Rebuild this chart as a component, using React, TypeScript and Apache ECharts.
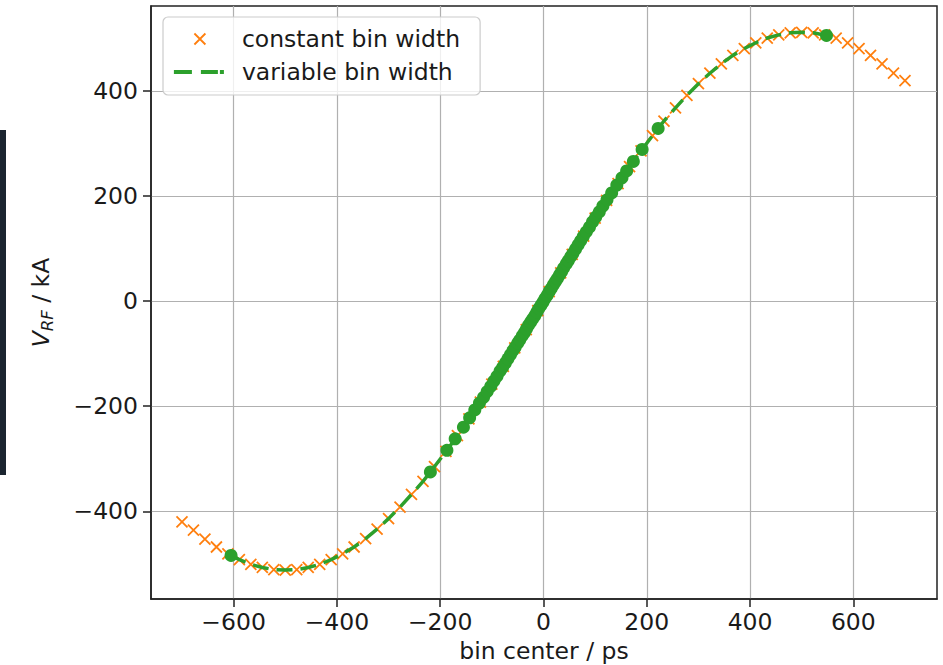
import React, { useEffect, useRef } from "react";
import * as echarts from "echarts";

// constant bin width (orange crosses)
const constX = [-700, -677.8, -655.6, -633.3, -611.1, -588.9, -566.7, -544.4, -522.2, -500, -477.8, -455.6, -433.3, -411.1, -388.9, -366.7, -344.4, -322.2, -300, -277.8, -255.6, -233.3, -211.1, -188.9, -166.7, -144.4, -122.2, -100, -77.8, -55.6, -33.3, -11.1, 11.1, 33.3, 55.6, 77.8, 100, 122.2, 144.4, 166.7, 188.9, 211.1, 233.3, 255.6, 277.8, 300, 322.2, 344.4, 366.7, 388.9, 411.1, 433.3, 455.6, 477.8, 500, 522.2, 544.4, 566.7, 588.9, 611.1, 633.3, 655.6, 677.8, 700];
const constY = [-420, -436, -453, -468, -481, -492, -501, -507, -511, -512, -511, -507, -501, -492, -481, -468, -452, -434, -414, -392, -368, -343, -315, -286, -256, -224, -192, -158, -124, -89, -54, -18, 18, 54, 89, 124, 158, 192, 224, 256, 286, 315, 343, 368, 392, 414, 434, 452, 468, 481, 492, 501, 507, 511, 512, 511, 507, 501, 492, 481, 468, 452, 434, 420];

// variable bin width: bin centers (green dots)
const varX = [-605, -219, -187, -171, -155, -143, -133, -124, -116, -109, -102, -96, -90, -84, -79, -74, -69, -64, -59, -55, -50, -46, -41, -37, -33, -29, -25, -21, -17, -13, -9, -5, -1, 3, 7, 11, 15, 19, 23, 27, 31, 35, 39, 44, 48, 53, 57, 62, 67, 72, 77, 83, 89, 95, 101, 108, 115, 123, 132, 142, 152, 161, 174, 191, 222, 548];
const varY = [-484, -325, -284, -262, -240, -222, -207, -194, -183, -172, -162, -152, -143, -133, -126, -118, -110, -102, -94, -88, -80, -74, -66, -60, -53, -46, -40, -34, -28, -21, -14, -8, -2, 5, 11, 18, 24, 31, 37, 43, 50, 56, 63, 71, 77, 85, 91, 99, 107, 115, 123, 132, 141, 151, 160, 170, 181, 193, 206, 221, 235, 248, 266, 289, 329, 506];

// variable bin width: dashed curve
const lineX = [-605, -588.9, -566.7, -544.4, -522.2, -500, -477.8, -455.6, -433.3, -411.1, -388.9, -366.7, -344.4, -322.2, -300, -277.8, -255.6, -233.3, -219, -187, -155, -124, -96, -69, -46, -25, -5, 15, 35, 57, 83, 115, 152, 191, 222, 233.3, 255.6, 277.8, 300, 322.2, 344.4, 366.7, 388.9, 411.1, 433.3, 455.6, 477.8, 500, 522.2, 548];
const lineY = [-484, -492, -501, -507, -511, -512, -511, -507, -501, -492, -481, -468, -452, -434, -414, -392, -368, -343, -325, -284, -240, -194, -152, -110, -74, -40, -8, 24, 56, 91, 132, 181, 235, 289, 329, 343, 368, 392, 414, 434, 452, 468, 481, 492, 501, 507, 511, 512, 511, 506];

const xTicks = [-600, -400, -200, 0, 200, 400, 600];
const yTicks = [-400, -200, 0, 200, 400];

const seriesNames = ["constant bin width", "variable bin width"];

const FONT = "DejaVu Sans";
const TXT = "#1a1a1a";
const GREEN = "#2ca02c";
const ORANGE = "#ff7f0e";
const fmt = (v: number) => (v < 0 ? "\u2212" + Math.abs(v) : String(v));

export default function App() {
  const ref = useRef<HTMLDivElement>(null);
  useEffect(() => {
    if (!ref.current) return;
    const chart = echarts.init(ref.current, undefined, { renderer: "svg" });
    const axisLineStyle = { color: "#222", width: 1.5 };
    const option: any = {
      animation: false,
      backgroundColor: "#fff",
      grid: {
        left: 151, right: 6, top: 6, bottom: 66,
        outerBoundsMode: "none", containLabel: false,
        show: true, borderColor: "#222", borderWidth: 1.5, backgroundColor: "transparent",
      },
      xAxis: {
        type: "value", min: -760, max: 762, splitNumber: 8,
        axisLine: { show: true, onZero: false, lineStyle: axisLineStyle },
        axisTick: { show: true, inside: false, length: 8, lineStyle: axisLineStyle, customValues: xTicks },
        axisLabel: { customValues: xTicks, formatter: fmt, fontSize: 23.5, fontFamily: FONT, color: TXT, margin: 11 },
        splitLine: { show: true, lineStyle: { color: "#b0b0b0", width: 1.2 } },
        name: "bin center / ps", nameLocation: "middle", nameGap: 40,
        nameTextStyle: { fontSize: 23.5, fontFamily: FONT, color: TXT },
      },
      yAxis: {
        type: "value", min: -567, max: 562, splitNumber: 6,
        axisLine: { show: true, onZero: false, lineStyle: axisLineStyle },
        axisTick: { show: true, inside: false, length: 8, lineStyle: axisLineStyle, customValues: yTicks },
        axisLabel: { customValues: yTicks, formatter: fmt, fontSize: 23.5, fontFamily: FONT, color: TXT, margin: 13 },
        splitLine: { show: true, lineStyle: { color: "#b0b0b0", width: 1.2 } },
        name: "{v|V}{s|RF}{n| / kA}", nameLocation: "middle", nameGap: 95, nameRotate: 90,
        nameTextStyle: {
          fontFamily: FONT, color: TXT,
          rich: {
            v: { fontSize: 23.5, fontStyle: "italic", fontFamily: FONT, color: TXT, lineHeight: 30, verticalAlign: "middle" },
            s: { fontSize: 16.5, fontStyle: "italic", fontFamily: FONT, color: TXT, lineHeight: 16, verticalAlign: "bottom" },
            n: { fontSize: 23.5, fontFamily: FONT, color: TXT, lineHeight: 30, verticalAlign: "middle" },
          },
        },
      },
      legend: {
        orient: "vertical", left: 163, top: 17,
        padding: [9, 20, 10, 10], itemGap: 7,
        itemWidth: 63, itemHeight: 14,
        backgroundColor: "rgba(255,255,255,0.8)", borderColor: "#cccccc", borderWidth: 1.2, borderRadius: 5,
        textStyle: { fontSize: 23.5, fontFamily: FONT, color: TXT, lineHeight: 26 },
        data: [
          {
            name: seriesNames[0],
            icon: "path://M0,0M63,14M20.5,1.5L31.5,12.5M31.5,1.5L20.5,12.5",
            itemStyle: { color: "rgba(0,0,0,0)", borderColor: ORANGE, borderWidth: 1.8 },
          },
          {
            name: seriesNames[1],
            icon: "path://M0,0M63,14M0,5h18v4h-18zM27,5h17v4h-17zM46,5h4v4h-4z",
            itemStyle: { color: GREEN, borderWidth: 0 },
          },
        ],
      },
      graphic: [
        { type: "rect", left: 0, top: 130, shape: { width: 6, height: 345 }, style: { fill: "#1b2530" }, silent: true },
      ],
      series: [
        {
          name: seriesNames[0], type: "scatter", z: 2,
          symbol: "path://M0,0L10,10M10,0L0,10", symbolSize: 11,
          itemStyle: { color: "rgba(0,0,0,0)", borderColor: ORANGE, borderWidth: 1.8, opacity: 1 },
          data: constX.map((x, i) => [x, constY[i]]),
        },
        {
          name: seriesNames[1], type: "line", z: 3,
          showSymbol: false, symbol: "none", smooth: false,
          itemStyle: { color: GREEN },
          lineStyle: { color: GREEN, width: 3.5, type: [16, 8] },
          data: lineX.map((x, i) => [x, lineY[i]]),
        },
        {
          name: "bin centers", type: "scatter", z: 4,
          symbol: "circle", symbolSize: 13,
          itemStyle: { color: GREEN, opacity: 1 },
          data: varX.map((x, i) => [x, varY[i]]),
        },
      ],
    };
    chart.setOption(option);
    return () => chart.dispose();
  }, []);
  return (
    <div
      ref={ref}
      style={{ position: "absolute", left: 0, top: 0, width: 943, height: 665, background: "#fff" }}
    />
  );
}
